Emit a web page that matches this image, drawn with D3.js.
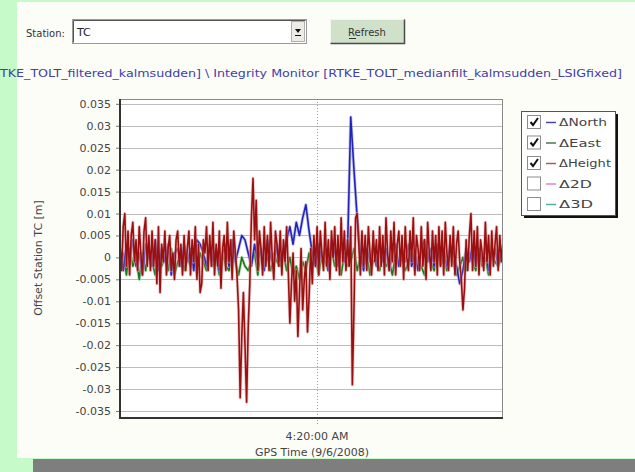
<!DOCTYPE html>
<html>
<head>
<meta charset="utf-8">
<script src="https://cdn.jsdelivr.net/npm/d3@7"></script>
<style>
  html, body { margin: 0; padding: 0; background: #c6fbc9; }
  svg { display: block; }
</style>
</head>
<body>
<div id="chart"></div>
<script>
// Offsets in millimetres
// Height: one sample every 6 s, North / East: one every 12 s
const heightMm = [
  3, -3, 7, 10, -2, 6, -4, 5, 8, -1, 4, -3, 7, 1, -4, 6, 9, -2, 5, -3,
  6, -2, 4, -6, 7, -8, 3, -1, 6, -4, 2, 5, -3, 1, -5, 4, 6, -2, 3, -4,
  5, -3, 2, 6, -4, 4, -1, 7, -5, 3, -8, -6, 4, 1, 7, -3, 5, -2, 8, -4,
  3, -2, 6, -7, 2, 5, -3, 8, -1, 4, -5, 6, 1, -4, -12, -32, -18, -8, -20, -33,
  -16, -6, 9, 18, 4, 13, -3, 6, 2, -4, 7, -2, 5, -3, 8, 0, -5, 6, 3, -2,
  6, -4, 4, -1, 7, -3, -15, -6, 1, -10, -3, -18, -8, 2, -12, -5, -1, -17, -9, 2,
  -6, 5, -2, 7, -4, 6, 1, -3, 8, -2, 4, -5, 6, 0, 7, -3, 5, -4, 9, -1,
  6, -3, 4, -2, 7, -29, -12, 9, 10, 3, -4, 6, -2, 5, -3, 7, 1, -4, 6, -1,
  4, -3, 7, -2, 5, -4, 9, 1, -3, 6, -1, 8, -4, 3, 6, -2, 5, -5, 7, 0,
  -3, 6, -1, 9, -4, 5, 2, -3, 7, -2, 4, -5, 8, 1, -3, 6, -1, 5, -4, 7,
  -2, 6, -4, 8, 1, -3, 5, -2, 7, -4, 3, 6, -1, -5, -12, -7, 4, -3, 5, 10,
  -3, 6, -2, 7, -4, 4, 1, -3, 8, -1, 5, -4, 6, -2, 3, 7, -3, 5, -1, 4
];
const northMm = [
  2, -3, 3, -1, 4, -2, 1, -4, 3, 0,
  -2, 4, -3, 2, -1, 3, -4, 1, 2, -2,
  3, -1, 2, -3, 4, 3, 1, -2, 3, -1,
  2, -3, 1, 3, -2, 4, -1, 2, 5, 4,
  1, -2, 3, -1, 2, -3, 4, 0, -2, 3,
  -1, 2, 4, 7, 3, 8, 5, 9, 12, 6,
  1, -2, 3, -1, 2, -3, 4, 1, -2, 3,
  -1, 2, 32, 20, 9, 1, -3, 2, -1, 3,
  -2, 3, -1, 2, -3, 1, 3, -2, 2, -1,
  3, -2, 1, -3, 2, 4, -1, 2, -2, 3,
  -1, 2, -2, 3, 1, -2, -6, -3, 2, -1,
  3, -2, 2, -1, 3, -3, 1, 2, -2, 1
];
const eastMm = [
  -3, 1, -4, 2, -2, 0, -5, 1, -3, 2,
  -1, -4, 1, -2, 0, -3, 2, -4, -1, 1,
  -3, 0, -2, 2, -4, 1, -1, -3, 2, -2,
  0, -4, 1, -2, -3, 2, -1, -4, 0, -2,
  -3, -1, 1, -4, 2, -2, 0, -3, 1, -1,
  -2, 1, -3, 0, -4, -2, -5, -1, -3, 1,
  -2, 0, -4, 1, -1, -3, 2, -2, 0, -4,
  1, -2, -1, 2, -3, 0, -2, 1, -4, -1,
  0, -3, 2, -2, -1, -4, 1, -2, 0, -3,
  -1, 1, -3, 0, -2, -4, 1, -1, -3, 2,
  -2, 0, -3, 1, -1, -4, -2, 0, -3, 1,
  -1, -3, 2, -2, 0, -4, 1, -1, -2, 0
];

const startTime = new Date(2008, 8, 6, 4, 7, 44);
const endTime = new Date(2008, 8, 6, 4, 31, 38);
const heightStepSec = 6;
const neStepSec = 12;

const yTicks = [0.035, 0.03, 0.025, 0.02, 0.015, 0.01, 0.005, 0,
  -0.005, -0.01, -0.015, -0.02, -0.025, -0.03, -0.035];
const xTicks = [new Date(2008, 8, 6, 4, 20, 0)];

const legendItems = [
  { label: 'ΔNorth', color: '#4a4a9a', checked: true, w: 48 },
  { label: 'ΔEast', color: '#4a7a4a', checked: true, w: 42 },
  { label: 'ΔHeight', color: '#a06060', checked: true, w: 52 },
  { label: 'Δ2D', color: '#e080d8', checked: false, w: 33 },
  { label: 'Δ3D', color: '#50b0a0', checked: false, w: 34 }
];

const W = 635, H = 472;
const svg = d3.select('#chart').append('svg')
  .attr('width', W).attr('height', H)
  .style('font-family', '"DejaVu Sans", sans-serif');

// background panels
svg.append('rect').attr('width', W).attr('height', H).attr('fill', '#c6fbc9');
svg.append('rect').attr('x', 17).attr('y', 2).attr('width', W - 17).attr('height', 456)
  .attr('fill', '#fdfdf8');
svg.append('rect').attr('x', 33).attr('y', 459).attr('width', W - 33).attr('height', 13)
  .attr('fill', '#7e7e7e');

// --- toolbar ---
svg.append('text').attr('x', 26).attr('y', 37).attr('font-size', 10).attr('fill', '#333')
  .text('Station:');

// combo box
svg.append('rect').attr('x', 72.5).attr('y', 19.5).attr('width', 234).attr('height', 24)
  .attr('fill', '#fff').attr('stroke', '#9a9a9a');
svg.append('path').attr('d', 'M73.5,42.5 V20.5 H305.5').attr('fill', 'none').attr('stroke', '#555');
svg.append('text').attr('x', 77).attr('y', 36).attr('font-size', 11).attr('fill', '#222').text('TC');
svg.append('rect').attr('x', 291.5).attr('y', 21.5).attr('width', 13).attr('height', 20)
  .attr('fill', '#ecebe6').attr('stroke', '#b0b0b0');
svg.append('path').attr('d', 'M295,29 L301,29 L298,33 Z').attr('fill', '#111');
svg.append('line').attr('x1', 295).attr('x2', 301).attr('y1', 35.5).attr('y2', 35.5).attr('stroke', '#111');

// refresh button
svg.append('rect').attr('x', 330).attr('y', 19).attr('width', 75).attr('height', 25)
  .attr('fill', '#cfe1c9');
svg.append('path').attr('d', 'M330.5,43.5 V19.5 H404.5').attr('fill', 'none').attr('stroke', '#f4f8f2');
svg.append('path').attr('d', 'M330.5,43.5 H404.5 V19.5').attr('fill', 'none').attr('stroke', '#4a4a4a').attr('stroke-width', 1.5);
svg.append('text').attr('x', 367).attr('y', 36).attr('font-size', 10).attr('fill', '#333')
  .attr('text-anchor', 'middle').text('Refresh');
svg.append('line').attr('x1', 349).attr('x2', 356).attr('y1', 38.5).attr('y2', 38.5).attr('stroke', '#333');

// blue caption (clipped at left in the original)
svg.append('text').attr('x', 0).attr('y', 77).attr('font-size', 10).attr('fill', '#4040aa')
  .attr('textLength', 622).attr('lengthAdjust', 'spacingAndGlyphs')
  .text('TKE_TOLT_filtered_kalmsudden] \\ Integrity Monitor [RTKE_TOLT_medianfilt_kalmsudden_LSIGfixed]');

// --- plot ---
const plot = { left: 120, right: 503, top: 99, bottom: 418 };

const x = d3.scaleTime().domain([startTime, endTime]).range([plot.left, plot.right]);
const y = d3.scaleLinear().domain([-0.0366, 0.0361]).range([plot.bottom, plot.top]);

svg.append('rect').attr('x', plot.left).attr('y', plot.top)
  .attr('width', plot.right - plot.left).attr('height', plot.bottom - plot.top)
  .attr('fill', '#fff');

// horizontal grid
svg.append('g').selectAll('line').data(yTicks).enter().append('line')
  .attr('x1', plot.left).attr('x2', plot.right)
  .attr('y1', d => Math.round(y(d)) + 0.5).attr('y2', d => Math.round(y(d)) + 0.5)
  .attr('stroke', '#bdbdbd');

// vertical dotted grid at the time ticks
svg.append('g').selectAll('line').data(xTicks).enter().append('line')
  .attr('x1', d => Math.round(x(d)) + 0.5).attr('x2', d => Math.round(x(d)) + 0.5)
  .attr('y1', plot.top).attr('y2', plot.bottom + 6)
  .attr('stroke', '#9a9a9a').attr('stroke-dasharray', '1,2');

// series: a soft halo under each line imitates the blur of the screenshot
const series = [
  { values: eastMm, step: neStepSec, color: '#1a7a1a', halo: '#9ccc9c' },
  { values: northMm, step: neStepSec, color: '#2424b8', halo: '#a0a0e0' },
  { values: heightMm, step: heightStepSec, color: '#9a1010', halo: '#e0a0a0' }
];

const line = d3.line()
  .x(d => x(d.t))
  .y(d => y(d.v / 1000));

svg.append('clipPath').attr('id', 'plotclip').append('rect')
  .attr('x', plot.left).attr('y', plot.top)
  .attr('width', plot.right - plot.left).attr('height', plot.bottom - plot.top);

const lines = svg.append('g').attr('clip-path', 'url(#plotclip)');
series.forEach(s => {
  const pts = s.values.map((v, i) => ({ t: new Date(+startTime + i * s.step * 1000), v }));
  lines.append('path')
    .datum(pts)
    .attr('fill', 'none')
    .attr('stroke', s.halo)
    .attr('stroke-opacity', 0.6)
    .attr('stroke-width', 3.2)
    .attr('stroke-linejoin', 'round')
    .attr('d', line);
  lines.append('path')
    .datum(pts)
    .attr('fill', 'none')
    .attr('stroke', s.color)
    .attr('stroke-width', 1.6)
    .attr('stroke-linejoin', 'round')
    .attr('d', line);
});

// frame
svg.append('rect').attr('x', plot.left + 0.5).attr('y', plot.top + 0.5)
  .attr('width', plot.right - plot.left - 1).attr('height', plot.bottom - plot.top - 1)
  .attr('fill', 'none').attr('stroke', '#8a8a8a');

// axes
const yAxis = svg.append('g')
  .attr('transform', `translate(${plot.left},0)`)
  .call(d3.axisLeft(y).tickValues(yTicks).tickSize(4).tickPadding(5)
    .tickFormat(d => String(+d.toFixed(3))));
yAxis.select('.domain').remove();
yAxis.selectAll('.tick line').attr('stroke', '#777');
yAxis.selectAll('text').attr('font-size', 11).attr('fill', '#444')
  .style('font-family', '"DejaVu Sans", sans-serif');

const xAxis = svg.append('g')
  .attr('transform', `translate(0,${plot.bottom})`)
  .call(d3.axisBottom(x).tickValues(xTicks).tickSize(0).tickPadding(14)
    .tickFormat(d3.timeFormat('%-I:%M:%S %p')));
xAxis.select('.domain').remove();
xAxis.selectAll('text').attr('font-size', 11).attr('fill', '#444')
  .style('font-family', '"DejaVu Sans", sans-serif');

svg.append('line').attr('x1', plot.left).attr('x2', plot.left)
  .attr('y1', plot.top).attr('y2', plot.bottom + 1)
  .attr('stroke', '#333').attr('stroke-width', 2);
svg.append('line').attr('x1', plot.left).attr('x2', plot.right)
  .attr('y1', plot.bottom).attr('y2', plot.bottom)
  .attr('stroke', '#333').attr('stroke-width', 2);

// axis titles
svg.append('text').attr('x', 312).attr('y', 456).attr('font-size', 11).attr('fill', '#444')
  .attr('text-anchor', 'middle').text('GPS Time (9/6/2008)');
svg.append('text').attr('transform', 'translate(42,258) rotate(-90)')
  .attr('font-size', 11).attr('fill', '#444').attr('text-anchor', 'middle')
  .text('Offset Station TC [m]');

// --- legend ---
const lg = { x: 521, y: 111, w: 94, h: 104 };
svg.append('rect').attr('x', lg.x + 3).attr('y', lg.y + 3).attr('width', lg.w).attr('height', lg.h)
  .attr('fill', '#111');
svg.append('rect').attr('x', lg.x + 0.5).attr('y', lg.y + 0.5).attr('width', lg.w).attr('height', lg.h)
  .attr('fill', '#fff').attr('stroke', '#555');

const rows = svg.append('g').selectAll('g').data(legendItems).enter().append('g')
  .attr('transform', (d, i) => `translate(${lg.x}, ${lg.y + 11 + i * 20.5})`);

rows.append('rect').attr('x', 6.5).attr('y', -6.5).attr('width', 13).attr('height', 13)
  .attr('fill', '#fff').attr('stroke', '#8c8c8c');
rows.filter(d => d.checked).append('path')
  .attr('d', 'M9.5,0 L12,3 L17,-4')
  .attr('fill', 'none').attr('stroke', '#111').attr('stroke-width', 2);
rows.append('line').attr('x1', 25).attr('x2', 35).attr('y1', 0.5).attr('y2', 0.5)
  .attr('stroke', d => d.color).attr('stroke-width', 1.5);
rows.append('text').attr('x', 38).attr('y', 4).attr('font-size', 10).attr('fill', '#444')
  .attr('textLength', d => d.w).attr('lengthAdjust', 'spacingAndGlyphs')
  .text(d => d.label);
</script>
</body>
</html>
